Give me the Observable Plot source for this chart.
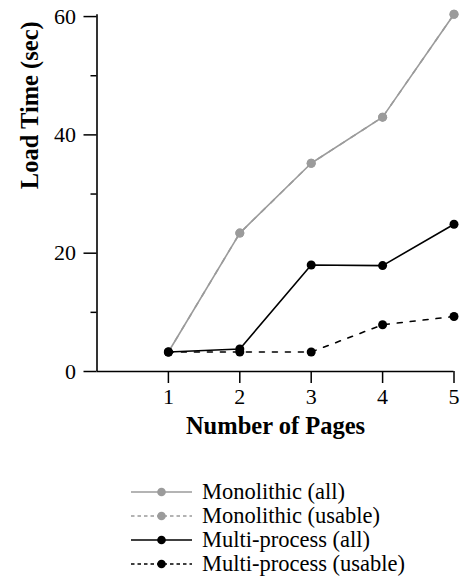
<!DOCTYPE html>
<html>
<head>
<meta charset="utf-8">
<script src="https://cdn.jsdelivr.net/npm/d3@7"></script>
<script src="https://cdn.jsdelivr.net/npm/@observablehq/plot@0.6"></script>
<style>
  body { margin: 0; background: white; }
  #chart svg { display: block; }
  #chart text { font-family: "Liberation Serif", "Times New Roman", serif; }
  #legend { margin: 30px 0 0 131px; font-family: "Liberation Serif", "Times New Roman", serif; font-size: 22.5px; color: black; }
  .row { display: flex; align-items: center; height: 24px; white-space: nowrap; }
  .row span { margin-left: 10px; line-height: 24px; }
</style>
</head>
<body>
<div id="chart"></div>
<div id="legend"></div>
<script>
// ---- data ----
const pages = [1, 2, 3, 4, 5];
const monolithicAll    = [3.3, 23.4, 35.2, 43.0, 60.4];
const monolithicUsable = [3.3, 23.4, 35.2, 43.0, 60.4];
const multiAll         = [3.3, 3.8, 18.0, 17.9, 24.9];
const multiUsable      = [3.3, 3.3, 3.3, 7.9, 9.3];
const seriesNames = ["Monolithic (all)", "Monolithic (usable)", "Multi-process (all)", "Multi-process (usable)"];
const seriesValues = [monolithicAll, monolithicUsable, multiAll, multiUsable];
const xTicks = [1, 2, 3, 4, 5];
const yTicks = [0, 20, 40, 60];
const yMinorTicks = [10, 30, 50];
const xLabel = "Number of Pages";
const yLabel = "Load Time (sec)";

const styles = {
  "Monolithic (all)":       {color: "#9b9b9b", dash: null,  legendDash: null},
  "Monolithic (usable)":    {color: "#9b9b9b", dash: "5,8", legendDash: "3.5,3"},
  "Multi-process (all)":    {color: "#000000", dash: null,  legendDash: null},
  "Multi-process (usable)": {color: "#000000", dash: "5,8", legendDash: "3.5,3"}
};

const data = seriesNames.flatMap((name, i) =>
  pages.map((p, j) => ({series: name, pages: p, time: seriesValues[i][j]})));

const drawOrder = ["Monolithic (usable)", "Monolithic (all)", "Multi-process (usable)", "Multi-process (all)"];
const seriesMarks = drawOrder.flatMap(name => {
  const d = data.filter(r => r.series === name);
  const s = styles[name];
  return [
    Plot.line(d, {x: "pages", y: "time", stroke: s.color, strokeWidth: 1.6, strokeDasharray: s.dash ?? undefined}),
    Plot.dot(d, {x: "pages", y: "time", fill: s.color, r: 4.5, stroke: "none"})
  ];
});

const font = "'Liberation Serif', 'Times New Roman', serif";

const chart = Plot.plot({
  width: 461,
  height: 450,
  marginLeft: 96.5,
  marginRight: 7.5,
  marginTop: 14.3,
  marginBottom: 79,
  style: {fontFamily: font, fontSize: "22px", color: "black", background: "white"},
  x: {domain: [0, 5]},
  y: {domain: [0, 60.3]},
  marks: [
    Plot.axisX({ticks: xTicks, tickSize: 12, tickPadding: 5, label: null, strokeWidth: 1.5, fontSize: 22, tickFormat: d => String(d)}),
    Plot.axisY({ticks: yTicks, tickSize: 13, tickPadding: 8, label: null, strokeWidth: 1.5, fontSize: 22, tickFormat: d => String(d)}),
    Plot.axisY({ticks: yMinorTicks, tickSize: 6, label: null, strokeWidth: 1.5, tickFormat: () => ""}),
    Plot.ruleX([0], {strokeWidth: 1.6}),
    Plot.ruleY([0], {strokeWidth: 1.6}),
    ...seriesMarks,
    Plot.text([xLabel], {frameAnchor: "bottom", lineAnchor: "top", dy: 45, fontWeight: "bold", fontSize: 24.5, fill: "black"}),
    Plot.text([yLabel], {frameAnchor: "left", rotate: -90, dx: -66.5, dy: -4, fontWeight: "bold", fontSize: 24.5, fill: "black"})
  ]
});
document.getElementById("chart").appendChild(chart);

// ---- legend ----
const legend = document.getElementById("legend");
seriesNames.forEach(name => {
  const s = styles[name];
  const row = document.createElement("div");
  row.className = "row";
  const svg = d3.create("svg").attr("width", 61).attr("height", 24);
  svg.append("line").attr("x1", 0).attr("x2", 61).attr("y1", 12).attr("y2", 12)
    .attr("stroke", s.color).attr("stroke-width", 1.6)
    .attr("stroke-dasharray", s.legendDash);
  svg.append("circle").attr("cx", 30.5).attr("cy", 12).attr("r", 4.3).attr("fill", s.color);
  row.appendChild(svg.node());
  const span = document.createElement("span");
  span.textContent = name;
  row.appendChild(span);
  legend.appendChild(row);
});
</script>
</body>
</html>
